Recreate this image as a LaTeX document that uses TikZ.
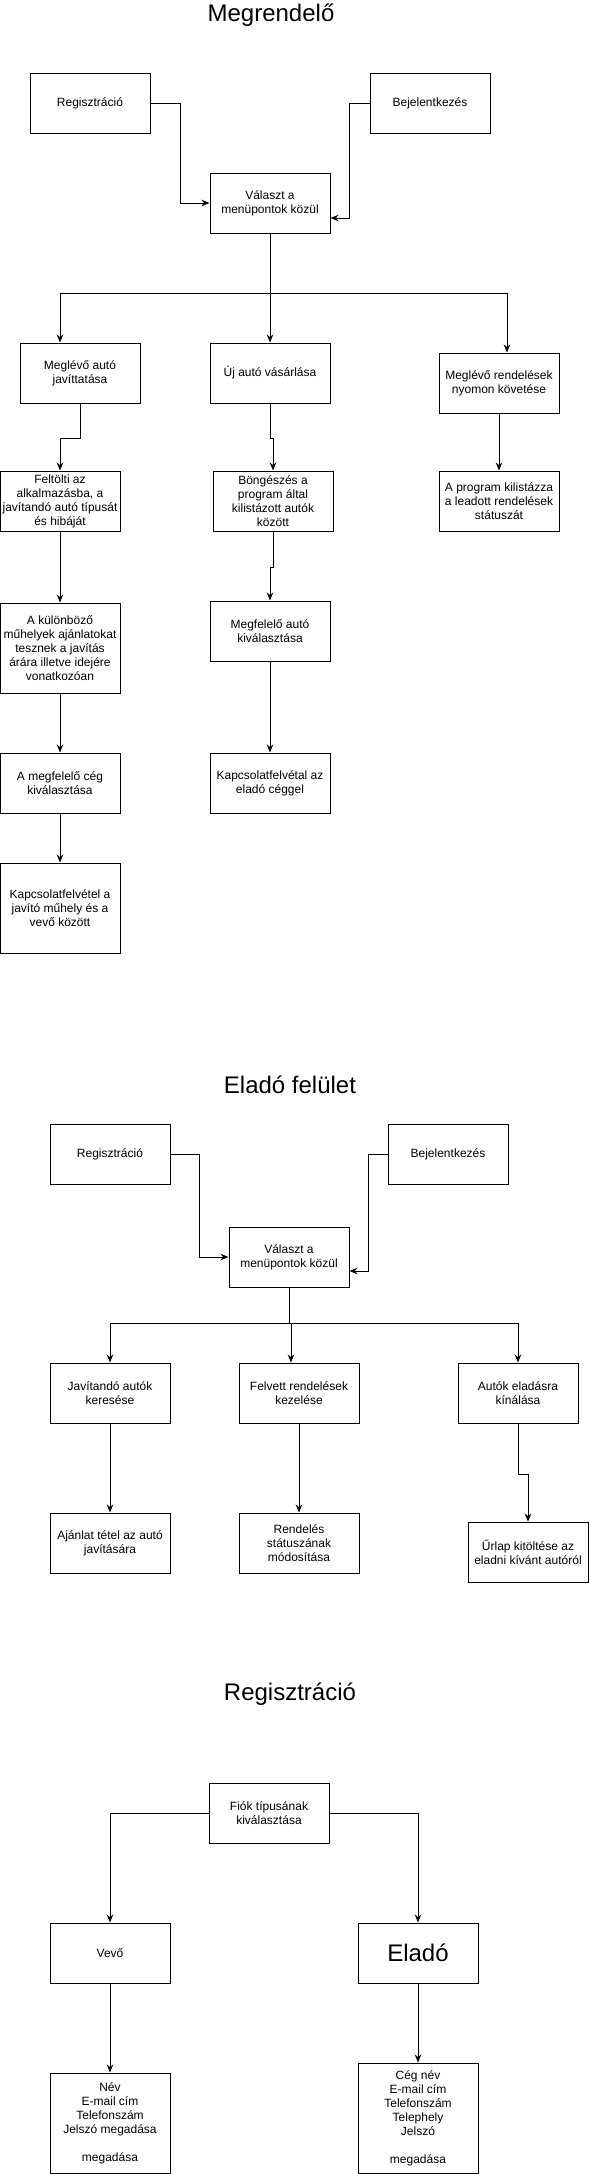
\documentclass[tikz,border=0pt]{standalone}
\usepackage{fontspec}
\setmainfont{Liberation Sans}
\usetikzlibrary{arrows.meta}

\begin{document}
\begin{tikzpicture}[->,>={Stealth[length=8pt,width=6.5pt]},x=1pt,y=-1pt,line width=1pt,
                    box/.style={rectangle, draw, minimum width=120pt, minimum height=60pt, align=center, inner sep=1pt, font=\fontsize{12}{14}\selectfont},
                    title/.style={font=\fontsize{24}{28}\selectfont},]
                    \useasboundingbox (0,0) rectangle (591,2174);

                    % Megrendelo
                    \node [title](t1) at (271,15){Megrendelő};
                    \node [box](reg1) at (90,103){Regisztráció};
                    \node [box](bej1) at (430,103){Bejelentkezés};
                    \node [box](val1) at (270,203){Választ a\\menüpontok közül};

                    \node [box](mja1) at (80,373){Meglévő autó\\javíttatása};
                    \node [box](uja1) at (270,373){Új autó vásárlása};
                    \node [box](mrk1) at (499,383){Meglévő rendelések\\nyomon követése};

                    \node [box](felt1) at (60,501){Feltölti az\\alkalmazásba, a\\javítandó autó típusát\\és hibáját};
                    \node [box](bong1) at (273,501){Böngészés a\\program által\\kilistázott autók\\között};
                    \node [box](prog1) at (499,501){A program kilistázza\\a leadott rendelések\\státuszát};

                    \node [box, minimum height=90pt](kul1) at (60,648){A különböző\\műhelyek ajánlatokat\\tesznek a javítás\\árára illetve idejére\\vonatkozóan};
                    \node [box](mfa1) at (270,631){Megfelelő autó\\kiválasztása};
                    \node [box](mfc1) at (60,783){A megfelelő cég\\kiválasztása};
                    \node [box](kap1) at (270,783){Kapcsolatfelvétal az\\eladó céggel};
                    \node [box, minimum height=90pt](kapj1) at (60,908){Kapcsolatfelvétel a\\javító műhely és a\\vevő között};

                    \draw (reg1.east) -- ++(30,0) |- (val1.west);
                    \draw (bej1.west) -- ++(-20,0) |- ([yshift=-15pt]val1.east);
                    \draw[-] (val1.south) -- (270,293) coordinate (sp1);
                    \draw (sp1) -| ([xshift=-20pt]mja1.north);
                    \draw (sp1) -| ([xshift=8pt]mrk1.north);
                    \draw (mja1.south) -- ++(0,35) -| (felt1.north);
                    \draw (uja1.south) -- ++(0,35) -| (bong1.north);
                    \draw (bong1.south) -- ++(0,36) -| (mfa1.north);

                    \path
                        (sp1) edge (uja1)
                        (mrk1) edge (prog1)
                        (felt1) edge (kul1)
                        (kul1) edge (mfc1)
                        (mfa1) edge (kap1)
                        (mfc1) edge (kapj1)
                    ;

                    % Elado felulet
                    \node [title](t2) at (290,1085){Eladó felület};
                    \node [box](reg2) at (110,1154){Regisztráció};
                    \node [box](bej2) at (448,1154){Bejelentkezés};
                    \node [box](val2) at (289,1257){Választ a\\menüpontok közül};

                    \node [box](jav2) at (110,1393){Javítandó autók\\keresése};
                    \node [box](felv2) at (299,1393){Felvett rendelések\\kezelése};
                    \node [box](aut2) at (518,1393){Autók eladásra\\kínálása};

                    \node [box](ajan2) at (110,1543){Ajánlat tétel az autó\\javítására};
                    \node [box](rend2) at (299,1543){Rendelés\\státuszának\\módosítása};
                    \node [box](url2) at (528,1552){Űrlap kitöltése az\\eladni kívánt autóról};

                    \draw (reg2.east) -- ++(29,0) |- (val2.west);
                    \draw (bej2.west) -- ++(-19,0) |- ([yshift=-14pt]val2.east);
                    \draw[-] (val2.south) -- (289,1323) coordinate (sp2);
                    \draw (sp2) -| (jav2.north);
                    \draw (sp2) -| ([xshift=-8pt]felv2.north);
                    \draw (sp2) -| (aut2.north);
                    \draw (aut2.south) -- ++(0,51) -| (url2.north);

                    \path
                        (jav2) edge (ajan2)
                        (felv2) edge (rend2)
                    ;

                    % Regisztracio
                    \node [title](t3) at (290,1694){Regisztráció};
                    \node [box](fiok3) at (269,1813){Fiók típusának\\kiválasztása};
                    \node [box](vevo3) at (110,1953){Vevő};
                    \node [box, font=\fontsize{24}{28}\selectfont](elad3) at (418,1953){Eladó};
                    \node [box, minimum height=100pt](nev3) at (110,2123){Név\\E-mail cím\\Telefonszám\\Jelszó megadása\\[14pt]megadása};
                    \node [box, minimum height=110pt](ceg3) at (418,2118){Cég név\\E-mail cím\\Telefonszám\\Telephely\\Jelszó\\[14pt]megadása};

                    \draw (fiok3.west) -| (vevo3.north);
                    \draw (fiok3.east) -| (elad3.north);
                    \path
                        (vevo3) edge (nev3)
                        (elad3) edge (ceg3)
                    ;

                \end{tikzpicture}
\end{document}
